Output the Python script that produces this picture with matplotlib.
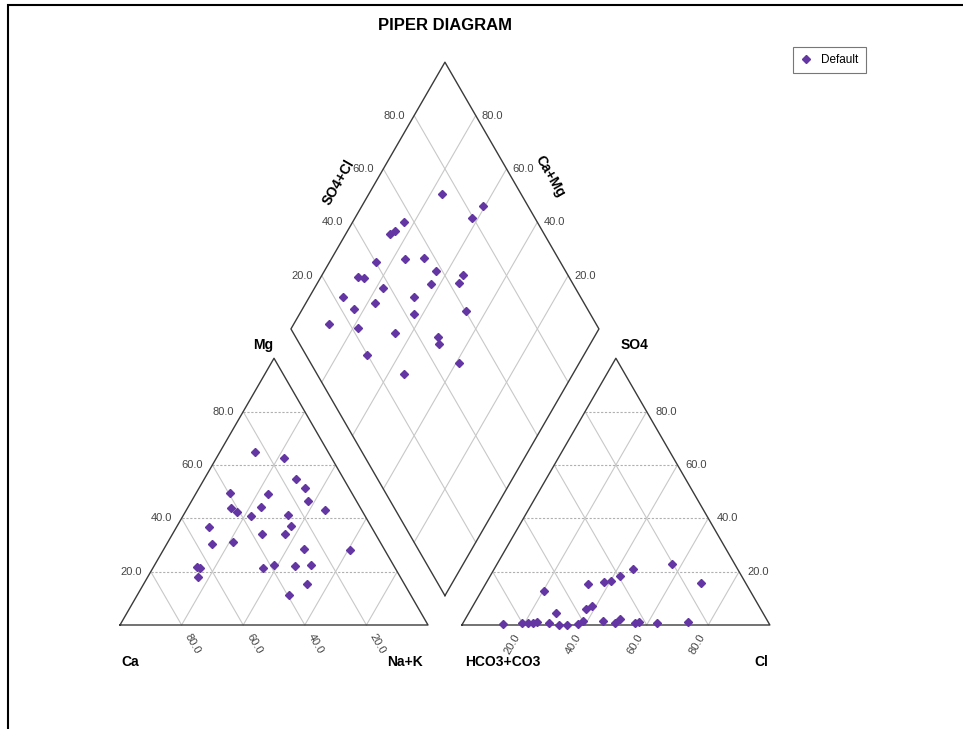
import numpy as np
import matplotlib
matplotlib.use("Agg")
import matplotlib.pyplot as plt
from matplotlib.patches import Rectangle

plt.rcParams['font.family'] = ['Liberation Sans', 'DejaVu Sans']

# cation triangle (% meq), Na+K = 100 - Ca - Mg
ca = [23.8, 15.5, 15.7, 14.3, 15.8, 39.5, 27.5, 32.0, 42.1, 40.9, 37.1, 24.8, 11.8, 52.7, 25.9,
      36.9, 29.3, 55.1, 47.6, 26.0, 11.3, 64.2, 63.4, 65.8, 42.8, 38.7, 32.2, 26.9, 31.5, 39.6]
mg = [64.7, 62.6, 54.6, 51.2, 46.6, 49.4, 49.1, 44.4, 43.8, 42.5, 40.9, 41.4, 43.2, 36.7, 37.2,
      34.0, 34.2, 30.2, 31.1, 28.6, 28.0, 21.8, 21.2, 18.0, 21.4, 22.4, 22.1, 22.4, 15.3, 11.1]

# anion triangle (% meq), HCO3+CO3 = 100 - Cl - SO4
cl = [13.0, 19.1, 21.1, 22.7, 23.8, 27.8, 31.6, 34.0, 37.6, 38.7, 45.2, 49.5, 50.3, 55.9,
      57.0, 62.9, 72.9, 28.2, 37.2, 38.7, 20.3, 33.3, 38.0, 40.3, 42.1, 45.0, 57.0, 69.9]
so4 = [0.4, 0.6, 0.9, 0.6, 1.1, 0.9, 0.1, 0.1, 0.4, 1.4, 1.4, 0.6, 2.1, 0.7,
       1.3, 0.6, 1.2, 4.5, 5.9, 7.1, 12.8, 15.3, 16.2, 16.4, 18.5, 20.9, 22.7, 15.7]

# diamond
so4_cl = [74.3, 85.5, 79.5, 56.8, 52.1, 50.0, 40.1, 50.1, 56.6, 57.9, 65.8, 31.5, 33.4, 53.9, 63.3,
          37.7, 22.7, 32.2, 46.0, 24.2, 42.8, 60.2, 13.2, 22.1, 32.9, 46.3, 45.3, 19.8, 48.3, 28.3]
ca_mg = [76.1, 60.6, 62.2, 83.2, 84.6, 85.7, 85.1, 76.0, 70.0, 63.9, 54.3, 87.8, 85.8, 63.1, 54.0,
         77.8, 89.1, 77.7, 66.0, 83.1, 62.7, 46.6, 88.5, 78.4, 65.4, 50.7, 49.0, 70.6, 39.0, 54.7]

ticks = [20, 40, 60, 80]
tick_labels = ["20.0", "40.0", "60.0", "80.0"]

h = np.sqrt(3) / 2
gap = 0.11
ox = 1 + gap                      # left corner of anion triangle
bx, by = 1 + gap / 2, gap * h     # bottom of diamond

purple = '#6336a3'
edge = '#3a3a3a'
grid_c = '#c8c8c8'
tick_c = '#444444'


def diamond_xy(s, c):
    # s = SO4+Cl, c = Ca+Mg (fractions)
    s = np.asarray(s)
    c = np.asarray(c)
    return bx + 0.5 * (s - c), by + h * (s + c)


fig = plt.figure(figsize=(9.63, 7.29), dpi=100)
ax = fig.add_axes([0, 0, 1, 1])
ax.set_xlim(-120 / 308, 843 / 308)
ax.set_ylim(-104 / 308, 625 / 308)
ax.axis('off')

# grid lines
for t in np.array(ticks) / 100:
    # cation triangle
    ax.plot([t / 2, 1 - t / 2], [t * h, t * h], color='#b0b0b0', lw=0.8, ls=(0, (2, 1.5)), zorder=1)
    ax.plot([1 - t, (1 - t) / 2], [0, (1 - t) * h], color=grid_c, lw=0.8, zorder=1)
    ax.plot([t, (1 + t) / 2], [0, (1 - t) * h], color=grid_c, lw=0.8, zorder=1)
    # anion triangle
    ax.plot([ox + t / 2, ox + 1 - t / 2], [t * h, t * h], color='#b0b0b0', lw=0.8, ls=(0, (2, 1.5)), zorder=1)
    ax.plot([ox + t, ox + (1 + t) / 2], [0, (1 - t) * h], color=grid_c, lw=0.8, zorder=1)
    ax.plot([ox + 1 - t, ox + (1 - t) / 2], [0, (1 - t) * h], color=grid_c, lw=0.8, zorder=1)
    # diamond
    x, y = diamond_xy([t, t], [0, 1])
    ax.plot(x, y, color=grid_c, lw=0.8, zorder=1)
    x, y = diamond_xy([0, 1], [t, t])
    ax.plot(x, y, color=grid_c, lw=0.8, zorder=1)

# outlines
ax.plot([0, 1, 0.5, 0], [0, 0, h, 0], color=edge, lw=1.0, zorder=2)
ax.plot([ox, ox + 1, ox + 0.5, ox], [0, 0, h, 0], color=edge, lw=1.0, zorder=2)
x, y = diamond_xy([0, 1, 1, 0, 0], [0, 0, 1, 1, 0])
ax.plot(x, y, color=edge, lw=1.0, zorder=2)

# tick labels
for t, lab in zip(np.array(ticks) / 100, tick_labels):
    ax.annotate(lab, (t / 2, t * h), xytext=(-6.5, 0), textcoords='offset points',
                ha='right', va='center', fontsize=8, color=tick_c)
    ax.annotate(lab, (1 - t, 0), xytext=(8, -13.5), textcoords='offset points',
                ha='center', va='center', rotation=-60, fontsize=8, color=tick_c)
    ax.annotate(lab, (ox + t, 0), xytext=(-8, -13.5), textcoords='offset points',
                ha='center', va='center', rotation=60, fontsize=8, color=tick_c)
    ax.annotate(lab, (ox + 1 - t / 2, t * h), xytext=(6, 0), textcoords='offset points',
                ha='left', va='center', fontsize=8, color=tick_c)
    x, y = diamond_xy(t, 1)
    ax.annotate(lab, (x, y), xytext=(-6.5, 0), textcoords='offset points',
                ha='right', va='center', fontsize=8, color=tick_c)
    x, y = diamond_xy(1, t)
    ax.annotate(lab, (x, y), xytext=(4.5, 0), textcoords='offset points',
                ha='left', va='center', fontsize=8, color=tick_c)

# axis names
bold = dict(fontsize=10, fontweight='bold', ha='center', va='center', textcoords='offset points')
ax.annotate("Ca", (0, 0), xytext=(7, -27), **bold)
ax.annotate("Na+K", (1, 0), xytext=(-16.5, -27), **bold)
ax.annotate("Mg", (0.5, h), xytext=(-8, 9.5), **bold)
ax.annotate("HCO3+CO3", (ox, 0), xytext=(29.5, -27), **bold)
ax.annotate("Cl", (ox + 1, 0), xytext=(-6.5, -27), **bold)
ax.annotate("SO4", (ox + 0.5, h), xytext=(13.5, 9.5), **bold)
ax.annotate("SO4+Cl", diamond_xy(0.55, 1), xytext=(-27, 0), rotation=60, **bold)
ax.annotate("Ca+Mg", diamond_xy(1, 0.55), xytext=(26, 4), rotation=-60, **bold)

# samples
na = 100 - np.array(ca) - np.array(mg)
xc = na / 100 + np.array(mg) / 200
yc = np.array(mg) / 100 * h
ax.plot(xc, yc, 'D', color=purple, ms=4.5, mec=purple, zorder=3, label='Default')

xa = ox + np.array(cl) / 100 + np.array(so4) / 200
ya = np.array(so4) / 100 * h
ax.plot(xa, ya, 'D', color=purple, ms=4.5, mec=purple, zorder=3)

xd, yd = diamond_xy(np.array(so4_cl) / 100, np.array(ca_mg) / 100)
ax.plot(xd, yd, 'D', color=purple, ms=4.5, mec=purple, zorder=3)

ax.text(0.462, 1 - 25 / 729, "PIPER DIAGRAM", transform=ax.transAxes,
        ha='center', va='center', fontsize=12, fontweight='bold')

leg = ax.legend(loc='upper left', bbox_to_anchor=(793 / 963, 1 - 47 / 729), fontsize=8.5,
                frameon=True, fancybox=False, edgecolor='#555555', markerscale=0.9,
                handlelength=1.0, handletextpad=0.8, borderpad=0.6, borderaxespad=0)
leg.get_frame().set_linewidth(0.8)

# outer frame
fig.patches.append(Rectangle((8 / 963, -0.1), 1.2, 1 - 5 / 729 + 0.1, transform=fig.transFigure,
                             fill=False, ec='black', lw=1.5))

plt.savefig("out.png", dpi=100)
